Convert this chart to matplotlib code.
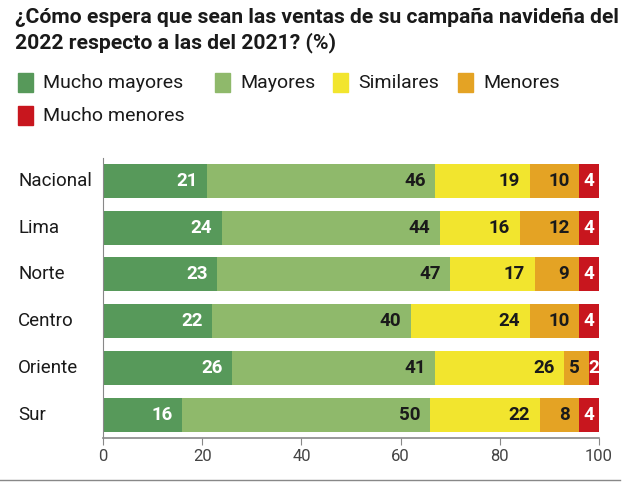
import matplotlib.pyplot as plt
from matplotlib.patches import Rectangle

plt.rcParams['font.family'] = ['Roboto', 'DejaVu Sans']

# Datos
regiones = ["Nacional", "Lima", "Norte", "Centro", "Oriente", "Sur"]
series = ["Mucho mayores", "Mayores", "Similares", "Menores", "Mucho menores"]
mucho_mayores = [21, 24, 23, 22, 26, 16]
mayores = [46, 44, 47, 40, 41, 50]
similares = [19, 16, 17, 24, 26, 22]
menores = [10, 12, 9, 10, 5, 8]
mucho_menores = [4, 4, 4, 4, 2, 4]
ticks = [0, 20, 40, 60, 80, 100]

colores = ["#57995a", "#8fb96b", "#f2e52e", "#e4a324", "#c8161e"]
color_texto = ["white", "#1a1a1a", "#1a1a1a", "#1a1a1a", "white"]

valores = [mucho_mayores, mayores, similares, menores, mucho_menores]

fig = plt.figure(figsize=(6.4, 4.91), dpi=100)
ax = fig.add_axes([0.161, 0.108, 0.775, 0.571])

pos = list(range(len(regiones)))
izq = [0] * len(regiones)
for k, serie in enumerate(valores):
    ax.barh(pos, serie, left=izq, height=0.73, color=colores[k], edgecolor='none')
    for i, v in enumerate(serie):
        fin = izq[i] + v
        if k == len(valores) - 1:
            ax.text(izq[i] + v / 2, i, str(v), ha='center', va='center',
                    color=color_texto[k], fontsize=13.5, fontweight='bold')
        else:
            ax.annotate(str(v), (fin, i), xytext=(-7, 0), textcoords='offset points',
                        ha='right', va='center', color=color_texto[k],
                        fontsize=13.5, fontweight='bold')
        izq[i] = fin

ax.set_xlim(0, 100)
ax.set_ylim(5.5, -0.5)
ax.set_yticks([])
for i, nombre in enumerate(regiones):
    ax.text(-0.171, i, nombre, transform=ax.get_yaxis_transform(), ha='left', va='center',
            fontsize=13.5, color='#1a1a1a')
ax.set_xticks(ticks)
ax.set_xticklabels([str(t) for t in ticks], fontsize=12, color='#444444')
ax.tick_params(axis='x', length=5, color='#888888', pad=3)
ax.spines['top'].set_visible(False)
ax.spines['right'].set_visible(False)
ax.spines['left'].set_color('#888888')
ax.spines['bottom'].set_color('#888888')
ax.spines['left'].set_linewidth(0.8)
ax.spines['bottom'].set_linewidth(1.2)

# Titulo
fig.text(15 / 640, 1 - 17 / 491, "¿Cómo espera que sean las ventas de su campaña navideña del",
         fontsize=15.2, fontweight='bold', color='#1a1a1a', va='center', ha='left')
fig.text(15 / 640, 1 - 43 / 491, "2022 respecto a las del 2021? (%)",
         fontsize=15.2, fontweight='bold', color='#1a1a1a', va='center', ha='left')

# Leyenda
leyenda_x = [18, 215, 333, 458, 18]
leyenda_y = [83, 83, 83, 83, 116]
for k, nombre in enumerate(series):
    x0 = leyenda_x[k] / 640
    y0 = 1 - leyenda_y[k] / 491
    fig.patches.append(Rectangle((x0, y0 - 9 / 491), 15 / 640, 19 / 491,
                                 transform=fig.transFigure, color=colores[k]))
    fig.text(x0 + 25 / 640, y0, nombre, fontsize=14, color='#1a1a1a', va='center', ha='left')

# Linea inferior
fig.add_artist(plt.Line2D([0, 620 / 640], [1 - 480 / 491] * 2, transform=fig.transFigure,
                          color='#888888', linewidth=1))

plt.savefig("out.png", dpi=100)
